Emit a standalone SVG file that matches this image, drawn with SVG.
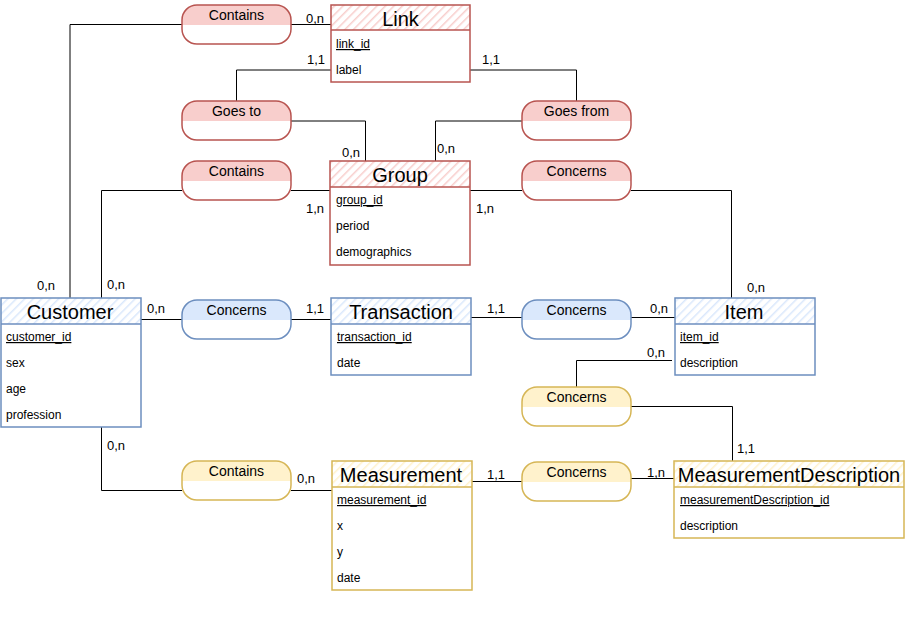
<svg xmlns="http://www.w3.org/2000/svg" width="905" height="617" viewBox="0 0 905 617">
<defs>
<pattern id="hr" patternUnits="userSpaceOnUse" width="6" height="6" patternTransform="rotate(45)"><rect width="6" height="6" fill="#fff"/><line x1="0" y1="0" x2="0" y2="6" stroke="#f8cecc" stroke-width="3"/></pattern>
<pattern id="hb" patternUnits="userSpaceOnUse" width="6" height="6" patternTransform="rotate(45)"><rect width="6" height="6" fill="#fff"/><line x1="0" y1="0" x2="0" y2="6" stroke="#dae8fc" stroke-width="3"/></pattern>
<pattern id="hy" patternUnits="userSpaceOnUse" width="6" height="6" patternTransform="rotate(45)"><rect width="6" height="6" fill="#fff"/><line x1="0" y1="0" x2="0" y2="6" stroke="#fff2cc" stroke-width="3"/></pattern>
<clipPath id="rc"><rect x="0" y="0" width="109" height="39" rx="15"/></clipPath>
</defs>
<style>
text{font-family:"Liberation Sans",Arial,sans-serif;fill:#000}
.t{font-size:20px;text-anchor:middle}
.a{font-size:12px}
.u{text-decoration:underline}
.rl{font-size:14px;text-anchor:middle}
.c{font-size:13px}
.con path{fill:none;stroke:#000;stroke-width:1}
.red .b{stroke:#b85450}
.blue .b{stroke:#6c8ebf}
.yel .b{stroke:#d6b656}
.b{fill:none;stroke-width:1.5}
.red .f{fill:#f8cecc}
.blue .f{fill:#dae8fc}
.yel .f{fill:#fff2cc}
</style>
<rect width="905" height="617" fill="#fff"/>
<g id="connectors" class="con">
<path d="M70,298 V24.5 H182"/>
<path d="M291,24.5 H331"/>
<path d="M331,70 H236.5 V101"/>
<path d="M291,121 H365.5 V161"/>
<path d="M470,70 H576.5 V101"/>
<path d="M522,121 H435.5 V161"/>
<path d="M101.5,298 V190.5 H182"/>
<path d="M291,190.5 H330"/>
<path d="M470,190.5 H522"/>
<path d="M631,190.5 H731.5 V298"/>
<path d="M141,319.5 H182"/>
<path d="M291,319.5 H331"/>
<path d="M471,317.5 H522"/>
<path d="M631,317.5 H675"/>
<path d="M672,360.5 H576.5 V387"/>
<path d="M631,406.5 H732.5 V461"/>
<path d="M101.5,427 V490.5 H182"/>
<path d="M291,490.5 H332"/>
<path d="M472,481.5 H522"/>
<path d="M631,478.5 H674"/>
</g>
<g id="cardinalities" class="c">
<text x="306" y="23">0,n</text>
<text x="307" y="64">1,1</text>
<text x="482" y="64">1,1</text>
<text x="342" y="157">0,n</text>
<text x="437" y="153">0,n</text>
<text x="306" y="213">1,n</text>
<text x="476" y="213">1,n</text>
<text x="37" y="290">0,n</text>
<text x="107" y="289">0,n</text>
<text x="747" y="292">0,n</text>
<text x="147" y="313">0,n</text>
<text x="306" y="313">1,1</text>
<text x="487" y="313">1,1</text>
<text x="650" y="313">0,n</text>
<text x="647" y="357">0,n</text>
<text x="737" y="453">1,1</text>
<text x="107" y="450">0,n</text>
<text x="297" y="483">0,n</text>
<text x="487" y="479">1,1</text>
<text x="647" y="477">1,n</text>
</g>
<g id="rel-contains-link" class="red" transform="translate(182,5)"><rect class="f" x="0" y="0" width="109" height="20" clip-path="url(#rc)"/><rect class="b" x="0" y="0" width="109" height="39" rx="15"/><text class="rl" x="54.5" y="15">Contains</text></g>
<g id="rel-goes-to" class="red" transform="translate(182,101)"><rect class="f" x="0" y="0" width="109" height="20" clip-path="url(#rc)"/><rect class="b" x="0" y="0" width="109" height="39" rx="15"/><text class="rl" x="54.5" y="15">Goes to</text></g>
<g id="rel-goes-from" class="red" transform="translate(522,101)"><rect class="f" x="0" y="0" width="109" height="20" clip-path="url(#rc)"/><rect class="b" x="0" y="0" width="109" height="39" rx="15"/><text class="rl" x="54.5" y="15">Goes from</text></g>
<g id="rel-contains-group" class="red" transform="translate(182,161)"><rect class="f" x="0" y="0" width="109" height="20" clip-path="url(#rc)"/><rect class="b" x="0" y="0" width="109" height="39" rx="15"/><text class="rl" x="54.5" y="15">Contains</text></g>
<g id="rel-concerns-group" class="red" transform="translate(522,161)"><rect class="f" x="0" y="0" width="109" height="20" clip-path="url(#rc)"/><rect class="b" x="0" y="0" width="109" height="39" rx="15"/><text class="rl" x="54.5" y="15">Concerns</text></g>
<g id="rel-concerns-customer" class="blue" transform="translate(182,300)"><rect class="f" x="0" y="0" width="109" height="20" clip-path="url(#rc)"/><rect class="b" x="0" y="0" width="109" height="39" rx="15"/><text class="rl" x="54.5" y="15">Concerns</text></g>
<g id="rel-concerns-item" class="blue" transform="translate(522,300)"><rect class="f" x="0" y="0" width="109" height="20" clip-path="url(#rc)"/><rect class="b" x="0" y="0" width="109" height="39" rx="15"/><text class="rl" x="54.5" y="15">Concerns</text></g>
<g id="rel-concerns-md" class="yel" transform="translate(522,387)"><rect class="f" x="0" y="0" width="109" height="20" clip-path="url(#rc)"/><rect class="b" x="0" y="0" width="109" height="39" rx="15"/><text class="rl" x="54.5" y="15">Concerns</text></g>
<g id="rel-contains-meas" class="yel" transform="translate(182,461)"><rect class="f" x="0" y="0" width="109" height="20" clip-path="url(#rc)"/><rect class="b" x="0" y="0" width="109" height="39" rx="15"/><text class="rl" x="54.5" y="15">Contains</text></g>
<g id="rel-concerns-meas" class="yel" transform="translate(522,462)"><rect class="f" x="0" y="0" width="109" height="20" clip-path="url(#rc)"/><rect class="b" x="0" y="0" width="109" height="39" rx="15"/><text class="rl" x="54.5" y="15">Concerns</text></g>
<g id="ent-link" class="red">
<rect x="331" y="5" width="139" height="25" fill="url(#hr)"/>
<rect class="b" x="331" y="5" width="139" height="77"/><line class="b" x1="331" y1="30" x2="470" y2="30"/>
<text class="t" x="400.5" y="26">Link</text>
<text class="a u" x="336" y="48">link_id</text><text class="a" x="336" y="74">label</text>
</g>
<g id="ent-group" class="red">
<rect x="330" y="161" width="140" height="26" fill="url(#hr)"/>
<rect class="b" x="330" y="161" width="140" height="104"/><line class="b" x1="330" y1="187" x2="470" y2="187"/>
<text class="t" x="400" y="182">Group</text>
<text class="a u" x="336" y="204">group_id</text><text class="a" x="336" y="230">period</text><text class="a" x="336" y="256">demographics</text>
</g>
<g id="ent-customer" class="blue">
<rect x="1" y="298" width="140" height="26" fill="url(#hb)"/>
<rect class="b" x="1" y="298" width="140" height="129"/><line class="b" x1="1" y1="324" x2="141" y2="324"/>
<text class="t" x="70" y="319">Customer</text>
<text class="a u" x="6" y="341">customer_id</text><text class="a" x="6" y="367">sex</text><text class="a" x="6" y="393">age</text><text class="a" x="6" y="419">profession</text>
</g>
<g id="ent-transaction" class="blue">
<rect x="331" y="298" width="140" height="26" fill="url(#hb)"/>
<rect class="b" x="331" y="298" width="140" height="77"/><line class="b" x1="331" y1="324" x2="471" y2="324"/>
<text class="t" x="401" y="319">Transaction</text>
<text class="a u" x="337" y="341">transaction_id</text><text class="a" x="337" y="367">date</text>
</g>
<g id="ent-item" class="blue">
<rect x="675" y="298" width="140" height="26" fill="url(#hb)"/>
<rect class="b" x="675" y="298" width="140" height="77"/><line class="b" x1="675" y1="324" x2="815" y2="324"/>
<text class="t" x="744" y="319">Item</text>
<text class="a u" x="680" y="341">item_id</text><text class="a" x="680" y="367">description</text>
</g>
<g id="ent-measurement" class="yel">
<rect x="332" y="461" width="140" height="26" fill="url(#hy)"/>
<rect class="b" x="332" y="461" width="140" height="129"/><line class="b" x1="332" y1="487" x2="472" y2="487"/>
<text class="t" x="401" y="482">Measurement</text>
<text class="a u" x="337" y="504">measurement_id</text><text class="a" x="337" y="530">x</text><text class="a" x="337" y="556">y</text><text class="a" x="337" y="582">date</text>
</g>
<g id="ent-measurementdescription" class="yel">
<rect x="674" y="461" width="230" height="26" fill="url(#hy)"/>
<rect class="b" x="674" y="461" width="230" height="77"/><line class="b" x1="674" y1="487" x2="904" y2="487"/>
<text class="t" x="789" y="482">MeasurementDescription</text>
<text class="a u" x="680" y="504">measurementDescription_id</text><text class="a" x="680" y="530">description</text>
</g>
</svg>
